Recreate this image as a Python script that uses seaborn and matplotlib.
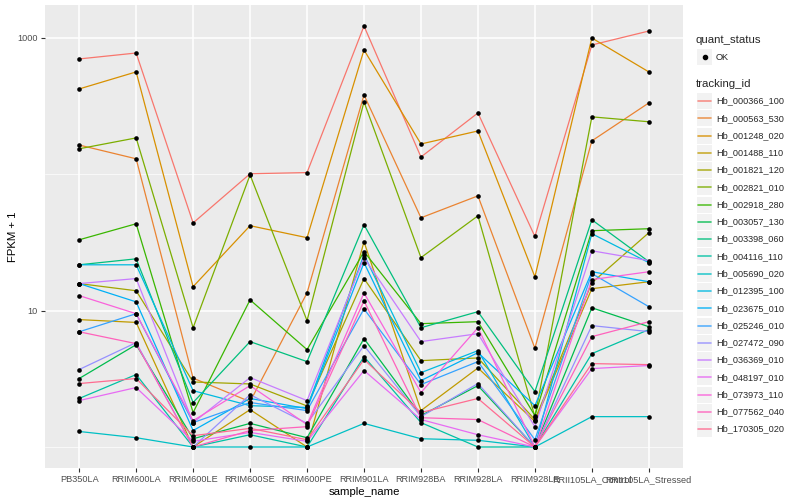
import numpy as np
import pandas as pd
import seaborn as sns
import matplotlib.pyplot as plt
from matplotlib.lines import Line2D
from matplotlib.patches import Rectangle
from matplotlib.ticker import FixedLocator, NullFormatter

samples = ["PB350LA", "RRIM600LA", "RRIM600LE", "RRIM600SE", "RRIM600PE",
           "RRIM901LA", "RRIM928BA", "RRIM928LA", "RRIM928LE",
           "RRII105LA_Control", "RRII105LA_Stressed"]

tracking_ids = ["Hb_000366_100", "Hb_000563_530", "Hb_001248_020", "Hb_001488_110",
                "Hb_001821_120", "Hb_002821_010", "Hb_002918_280", "Hb_003057_130",
                "Hb_003398_060", "Hb_004116_110", "Hb_005690_020", "Hb_012395_100",
                "Hb_023675_010", "Hb_025246_010", "Hb_027472_090", "Hb_036369_010",
                "Hb_048197_010", "Hb_073973_110", "Hb_077562_040", "Hb_170305_020"]

# ggplot2 default hue palette for 20 levels
colors = ["#F8766D", "#EA8331", "#D89000", "#C09B00", "#A3A500", "#7CAE00", "#39B600",
          "#00BB4E", "#00BF7D", "#00C1A3", "#00BFC4", "#00BAE0", "#00B0F6", "#35A2FF",
          "#9590FF", "#C77CFF", "#E76BF3", "#FA62DB", "#FF62BC", "#FF6C91"]

# FPKM per sample (same order as samples)
hb_000366_100 = [701, 775, 43, 100, 102, 1223, 133, 281, 34, 888, 1124]
hb_000563_530 = [163, 129, 2.2, 1.15, 12.5, 381, 47, 68.5, 4.3, 175, 333]
hb_001248_020 = [422, 563, 14, 41, 33.3, 816, 166, 207, 16.7, 999, 563]
hb_001488_110 = [7.6, 7.2, 0, 0.88, 0, 31, 0.85, 2.8, 0.54, 13.5, 15.3]
hb_001821_120 = [14.8, 13, 2.0, 1.9, 1.0, 16.2, 3.3, 3.5, 0.59, 15, 36.3]
hb_002821_010 = [153, 184, 6.5, 98, 7.45, 339, 23.5, 48.6, 0.67, 263, 242]
hb_002918_280 = [32.1, 42.4, 0.79, 11, 4.18, 26.1, 7.03, 7.3, 0.7, 37.6, 38.9]
hb_003057_130 = [2.18, 4.63, 0.15, 0.49, 0.17, 5.24, 0.7, 1.82, 0, 9.5, 6.63]
hb_003398_060 = [20.7, 23, 1.12, 4.93, 3.23, 41.7, 6.5, 8.83, 1.55, 45.4, 21.9]
hb_004116_110 = [1.27, 2.4, 0, 0.23, 0, 3.6, 0.51, 0, 0, 3.84, 6.26]
hb_005690_020 = [0.3, 0.17, 0, 0, 0, 0.49, 0.15, 0.12, 0, 0.67, 0.67]
hb_012395_100 = [20.7, 20.7, 1.59, 1.01, 0.95, 24.7, 2.51, 4.09, 0, 35.7, 21.5]
hb_023675_010 = [14.8, 10.6, 0.32, 1.27, 0.91, 21.5, 2.07, 3.92, 1.01, 18.3, 15.3]
hb_025246_010 = [6.0, 8.5, 0.51, 1.12, 0.85, 9.3, 1.87, 3.23, 0.13, 17.7, 9.7]
hb_027472_090 = [2.7, 4.83, 0, 1.42, 0.49, 4.54, 0.67, 1.92, 0, 6.77, 6.02]
hb_036369_010 = [14.8, 16.2, 0.51, 2.23, 1.19, 23.5, 4.93, 5.78, 0.41, 26.5, 22.3]
hb_048197_010 = [1.19, 1.73, 0.1, 0.28, 0.1, 2.64, 0.59, 0.23, 0, 2.76, 2.96]
hb_073973_110 = [11.9, 8.5, 0.56, 1.82, 0.46, 12.5, 1.51, 6.5, 0, 15.9, 18.3]
hb_077562_040 = [6.0, 4.73, 0, 0.32, 0.41, 10.8, 0.64, 0.59, 0, 5.45, 7.3]
hb_170305_020 = [1.92, 2.18, 0.21, 0.37, 0.13, 3.38, 0.79, 1.27, 0, 3.09, 3.02]

fpkm = [hb_000366_100, hb_000563_530, hb_001248_020, hb_001488_110, hb_001821_120,
        hb_002821_010, hb_002918_280, hb_003057_130, hb_003398_060, hb_004116_110,
        hb_005690_020, hb_012395_100, hb_023675_010, hb_025246_010, hb_027472_090,
        hb_036369_010, hb_048197_010, hb_073973_110, hb_077562_040, hb_170305_020]

rows = []
for tid, vals in zip(tracking_ids, fpkm):
    for s, v in zip(samples, vals):
        rows.append({"tracking_id": tid, "sample_name": s, "fpkm": v})
df = pd.DataFrame(rows)
df["fpkm_plus_1"] = df["fpkm"] + 1
df["x"] = df["sample_name"].map({s: i for i, s in enumerate(samples)})

sns.set_theme(style="darkgrid", rc={"axes.facecolor": "#EBEBEB"})
plt.rcParams["font.family"] = ["Liberation Sans", "DejaVu Sans"]

fig, ax = plt.subplots(figsize=(8, 5), dpi=100)
fig.subplots_adjust(left=45 / 800, right=683 / 800, top=1 - 5 / 500, bottom=1 - 468 / 500)

sns.lineplot(data=df, x="x", y="fpkm_plus_1", hue="tracking_id", hue_order=tracking_ids,
             palette=colors, linewidth=0.9, estimator=None, sort=False, legend=False, ax=ax)
sns.scatterplot(data=df, x="x", y="fpkm_plus_1", color="black", s=11, linewidth=0,
                legend=False, ax=ax, zorder=3)

ax.set_yscale("log")
ax.set_ylim(10 ** -0.154, 10 ** 3.242)
ax.set_xlim(-0.6, len(samples) - 0.4)
ax.set_xticks(range(len(samples)))
ax.set_xticklabels(samples)
ax.yaxis.set_major_locator(FixedLocator([10, 1000]))
ax.set_yticklabels(["10", "1000"])
ax.yaxis.set_minor_locator(FixedLocator([1, 100]))
ax.yaxis.set_minor_formatter(NullFormatter())
ax.grid(which="major", color="white", linewidth=1.1)
ax.grid(which="minor", axis="y", color="white", linewidth=0.5)
for sp in ax.spines.values():
    sp.set_visible(False)
ax.tick_params(which="major", length=3, width=0.8, color="#333333", labelcolor="#4D4D4D",
               labelsize=6.6, pad=2, left=True, bottom=True)
ax.tick_params(which="minor", length=0)
ax.set_xlabel("sample_name", fontsize=8.2, color="black", labelpad=2)
ax.set_ylabel("FPKM + 1", fontsize=8.2, color="black", labelpad=0)


# legend drawn by hand (ggplot style keys)
def fx(px):
    return px / 800


def fy(py):
    return 1 - py / 500


fig.text(fx(696), fy(40), "quant_status", fontsize=8.2, va="center", ha="left")
fig.add_artist(Rectangle((fx(697), fy(65)), 15 / 800, 16 / 500, transform=fig.transFigure,
                         facecolor="#F2F2F2", edgecolor="none"))
fig.add_artist(Line2D([fx(705)], [fy(57)], marker="o", markersize=3, color="black",
                      transform=fig.transFigure))
fig.text(fx(716), fy(57), "OK", fontsize=6.6, va="center", ha="left")

fig.text(fx(696), fy(84), "tracking_id", fontsize=8.2, va="center", ha="left")
for i, (tid, c) in enumerate(zip(tracking_ids, colors)):
    yc = 101 + i * 17.27
    fig.add_artist(Rectangle((fx(697), fy(yc + 8)), 15 / 800, 16 / 500,
                             transform=fig.transFigure, facecolor="#F2F2F2", edgecolor="none"))
    fig.add_artist(Line2D([fx(698), fx(711)], [fy(yc), fy(yc)], color=c, linewidth=1.2,
                          alpha=0.8, transform=fig.transFigure))
    fig.text(fx(716), fy(yc), tid, fontsize=6.6, va="center", ha="left")

fig.savefig("out.png", dpi=100, facecolor="white")
